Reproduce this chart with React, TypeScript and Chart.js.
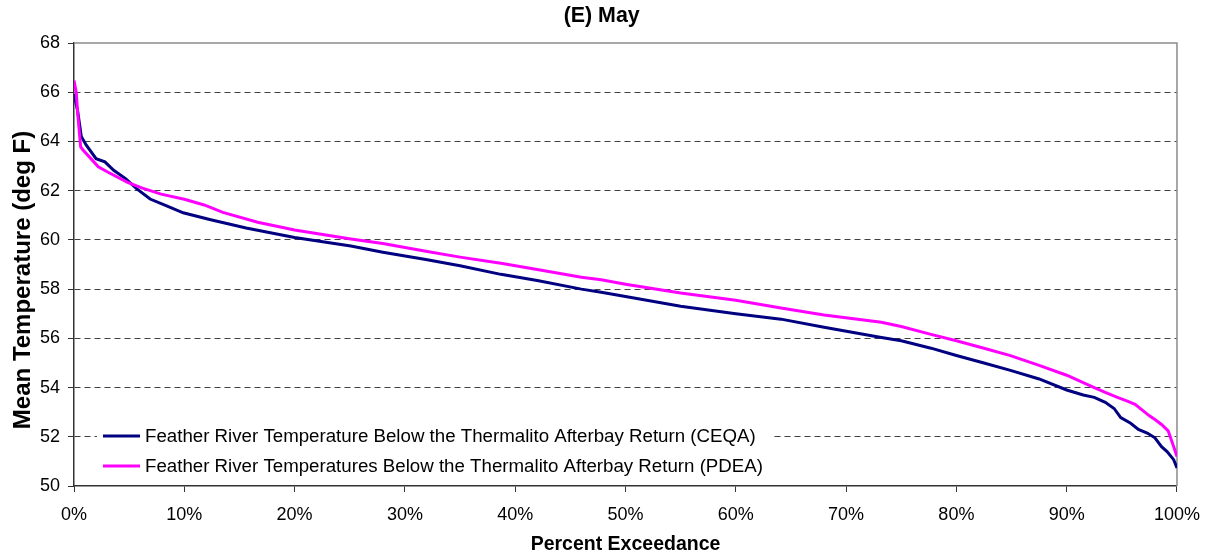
import React, { useEffect, useRef } from "react";
import { Chart, registerables } from "chart.js";

Chart.register(...registerables);

const chartTitle = "(E) May";
const xAxisTitle = "Percent Exceedance";
const yAxisTitle = "Mean Temperature (deg F)";

const ceqaLabel = "Feather River Temperature Below the Thermalito Afterbay Return (CEQA)";
const pdeaLabel = "Feather River Temperatures Below the Thermalito Afterbay Return (PDEA)";

const ceqaPct = [0, 0.33, 0.66, 1.1, 2.0, 2.8, 3.6, 4.7, 5.7, 6.9, 8.4, 9.9, 12.3, 15.6, 20, 25.1, 28, 31.9, 35, 38.7, 42, 46, 47.8, 50, 55, 60, 64.1, 68, 73.2, 75, 77.7, 80, 82.5, 84.9, 87.5, 90, 91.5, 92.5, 93.5, 94.3, 94.9, 95.8, 96.5, 97.3, 98, 98.6, 99.1, 99.7, 100];
const ceqaTemp = [65.93, 65.24, 64.2, 63.86, 63.3, 63.17, 62.83, 62.48, 62.07, 61.66, 61.38, 61.1, 60.83, 60.48, 60.1, 59.75, 59.5, 59.2, 58.95, 58.6, 58.35, 58.0, 57.87, 57.7, 57.3, 57.0, 56.78, 56.45, 56.03, 55.9, 55.6, 55.3, 55.0, 54.7, 54.35, 53.9, 53.7, 53.6, 53.4, 53.15, 52.78, 52.55, 52.3, 52.15, 51.96, 51.6, 51.4, 51.07, 50.73];

const pdeaPct = [0, 0.2, 0.33, 0.6, 0.8, 1.8, 2.2, 3.05, 4.86, 6.2, 7.9, 10, 11.8, 13.5, 16.65, 20, 25.1, 28, 31.9, 35, 38.7, 42, 46, 47.8, 50, 55, 60, 64.1, 68, 73.2, 75, 77.7, 80, 82.5, 84.9, 87.5, 90, 92.5, 93.5, 94.6, 95.5, 96.2, 97.5, 98, 98.6, 99.2, 99.7, 100];
const pdeaTemp = [66.48, 66.0, 65.17, 63.79, 63.66, 63.17, 62.97, 62.76, 62.34, 62.1, 61.86, 61.65, 61.42, 61.12, 60.72, 60.4, 60.04, 59.85, 59.54, 59.3, 59.05, 58.8, 58.48, 58.38, 58.2, 57.84, 57.55, 57.23, 56.95, 56.65, 56.48, 56.16, 55.9, 55.6, 55.3, 54.9, 54.5, 54.0, 53.8, 53.6, 53.45, 53.32, 52.85, 52.7, 52.5, 52.24, 51.6, 51.2];

const yMin = 50;
const yMax = 68;
const yStep = 2;
const xMin = 0;
const xMax = 100;
const xStep = 10;

const ceqaColor = "#000080";
const pdeaColor = "#FF00FF";
const FONT = "'Liberation Sans', Arial, Helvetica, sans-serif";

const toPoints = (xs: number[], ys: number[]) => xs.map((x, i) => ({ x, y: ys[i] }));

const framePlugin = {
  id: "frameAndLegend",
  beforeDatasetsDraw(chart: any) {
    const { ctx, chartArea: a } = chart;
    ctx.save();
    ctx.strokeStyle = "#8c8c8c";
    ctx.lineWidth = 1.5;
    ctx.beginPath();
    ctx.moveTo(a.left, a.top);
    ctx.lineTo(a.right, a.top);
    ctx.lineTo(a.right, a.bottom);
    ctx.stroke();
    ctx.restore();
  },
  afterDatasetsDraw(chart: any) {
    const { ctx } = chart;
    const items = [
      { label: ceqaLabel, color: ceqaColor, y: 436 },
      { label: pdeaLabel, color: pdeaColor, y: 466 },
    ];
    ctx.save();
    ctx.font = `18.7px ${FONT}`;
    let maxW = 0;
    items.forEach((it) => (maxW = Math.max(maxW, ctx.measureText(it.label).width)));
    ctx.fillStyle = "#ffffff";
    ctx.fillRect(97, 422, 145 - 97 + maxW + 8, 58);
    items.forEach((it) => {
      ctx.strokeStyle = it.color;
      ctx.lineWidth = 3;
      ctx.beginPath();
      ctx.moveTo(103, it.y);
      ctx.lineTo(140, it.y);
      ctx.stroke();
      ctx.fillStyle = "#000";
      ctx.textBaseline = "middle";
      ctx.textAlign = "left";
      ctx.fillText(it.label, 145, it.y + 1);
    });

    // chart title
    ctx.font = `bold 21.4px ${FONT}`;
    ctx.textAlign = "center";
    ctx.textBaseline = "middle";
    ctx.fillStyle = "#000";
    ctx.fillText(chartTitle, 601.7, 16);

    // y axis title
    ctx.translate(22, 280);
    ctx.rotate(-Math.PI / 2);
    ctx.font = `bold 24px ${FONT}`;
    ctx.fillText(yAxisTitle, 0, 1);
    ctx.restore();
  },
};

export default function App() {
  const ref = useRef<HTMLCanvasElement | null>(null);
  useEffect(() => {
    if (!ref.current) return;
    const chart = new Chart(ref.current, {
      type: "line",
      data: {
        datasets: [
          {
            label: pdeaLabel,
            data: toPoints(pdeaPct, pdeaTemp),
            borderColor: pdeaColor,
            backgroundColor: pdeaColor,
            borderWidth: 3,
            pointRadius: 0,
            tension: 0,
            fill: false,
          },
          {
            label: ceqaLabel,
            data: toPoints(ceqaPct, ceqaTemp),
            borderColor: ceqaColor,
            backgroundColor: ceqaColor,
            borderWidth: 3,
            pointRadius: 0,
            tension: 0,
            fill: false,
          },
        ],
      },
      options: {
        responsive: false,
        animation: false,
        layout: { padding: { left: 0, right: 31, top: 43, bottom: 0 } },
        plugins: {
          legend: { display: false },
          tooltip: { enabled: false },
          title: { display: false },
        },
        scales: {
          x: {
            type: "linear",
            min: xMin,
            max: xMax,
            afterFit: (s: any) => {
              s.height = 74;
            },
            ticks: {
              stepSize: xStep,
              color: "#000",
              font: { family: FONT, size: 18, lineHeight: 1.64 },
              padding: 8,
              maxRotation: 0,
              callback: (v: any) => `${v}%`,
            },
            grid: {
              drawOnChartArea: false,
              drawTicks: true,
              tickLength: 6,
              tickColor: "#333",
            },
            border: { color: "#333", width: 1.5 },
            title: {
              display: true,
              text: xAxisTitle,
              color: "#000",
              font: { family: FONT, size: 19.5, weight: "bold" },
              padding: { top: 0, bottom: 4 },
            },
          },
          y: {
            type: "linear",
            min: yMin,
            max: yMax,
            afterFit: (s: any) => {
              s.width = 74;
            },
            ticks: {
              stepSize: yStep,
              color: "#000",
              font: { family: FONT, size: 18 },
              padding: 8,
            },
            grid: {
              color: (c: any) =>
                c.tick && (c.tick.value === yMax || c.tick.value === yMin) ? "rgba(0,0,0,0)" : "#404040",
              lineWidth: 1,
              tickLength: 6,
              tickColor: "#333",
            },
            border: { color: "#333", width: 1.5, dash: [6, 4] },
            title: { display: false },
          },
        },
      },
      plugins: [framePlugin],
    });
    return () => chart.destroy();
  }, []);
  return (
    <div style={{ position: "absolute", left: 0, top: 0, width: 1208, height: 560, background: "#fff" }}>
      <canvas ref={ref} width={1208} height={560} style={{ display: "block" }} />
    </div>
  );
}
